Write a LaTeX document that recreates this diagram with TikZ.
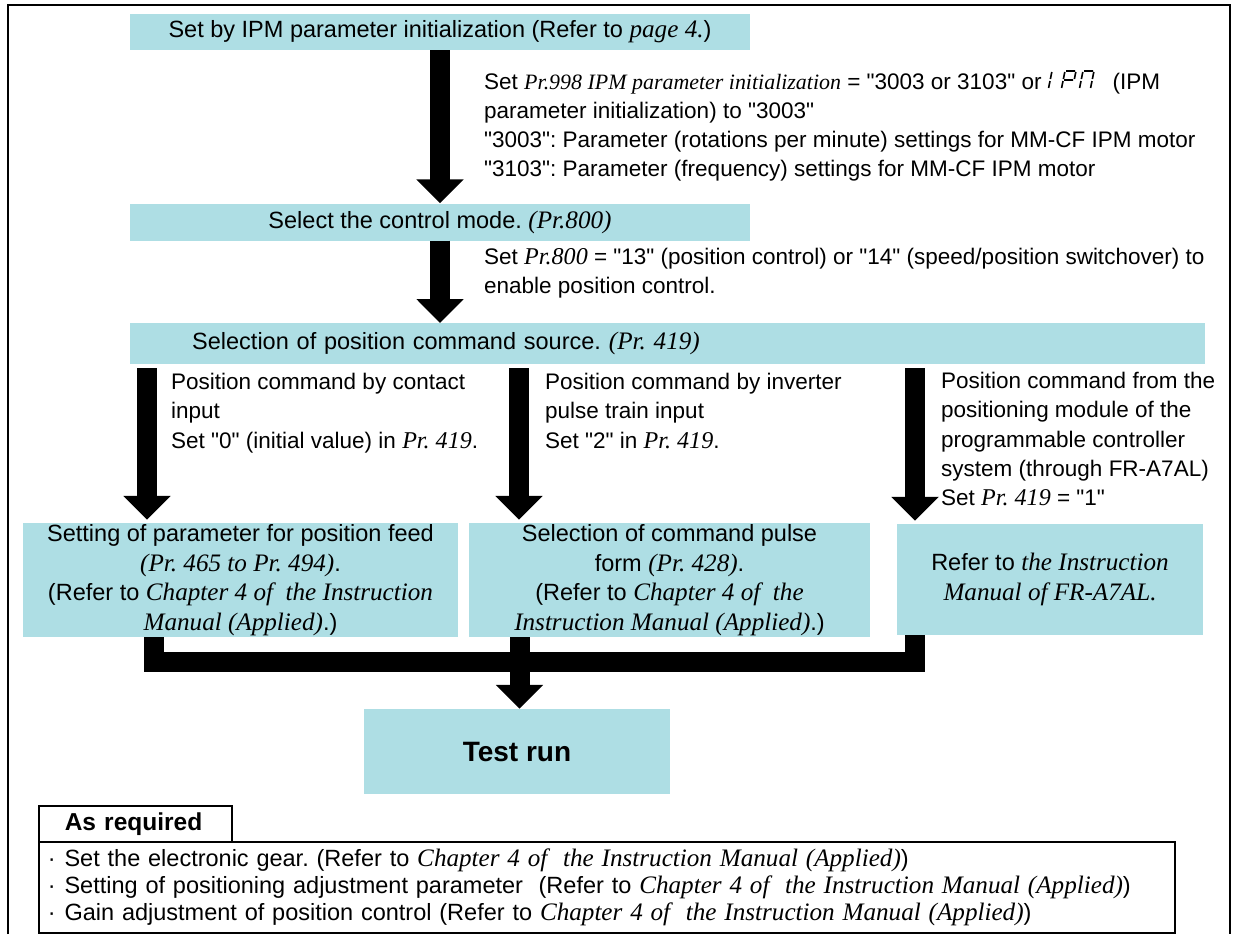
\documentclass[tikz,border=0pt]{standalone}
\usepackage{fontspec}
\setmainfont{Liberation Sans}[Ligatures=TeXOff]
\newfontfamily\tms[Scale=1.07]{Liberation Serif}
\usetikzlibrary{arrows.meta}
\definecolor{boxblue}{RGB}{174,222,228}
\newcommand\ser[1]{{\tms\itshape #1}}
\frenchspacing
% seven segment "1PM" as shown on the operation panel
\newcommand\segipm{\tikz[baseline=0pt,x=1pt,y=1pt,line width=1.6pt,xslant=.2]{
  \draw (4,1)--(4,8) (4,10)--(4,17);
  \draw (18,18)--(27,18) (17,10)--(17,17) (28,10)--(28,17) (18,9)--(27,9) (17,1)--(17,8);
  \draw (36,18)--(45,18) (35,10)--(35,17) (35,1)--(35,8) (46,10)--(46,17) (46,1)--(46,8);}}
\begin{document}
\begin{tikzpicture}[x=1pt,y=-1pt,line join=miter,
  box/.style={fill=boxblue,inner sep=0pt,align=center,font=\fontsize{23.5}{29.5}\selectfont},
  note/.style={anchor=north west,inner sep=0pt,align=left,font=\fontsize{22.5}{29.3}\selectfont},
  flow/.style={line width=20pt,-{Triangle[width=46pt,length=24pt]}},
  bar/.style={line width=20pt}]
  \useasboundingbox (0,0) rectangle (1238,934);
  \draw[line width=2pt] (8,934) -- (8,5) -- (1230,5) -- (1230,934);

  \node[box,minimum width=620pt,minimum height=36pt] (init) at (440,32) {Set by IPM parameter initialization (Refer to \ser{page 4.})};
  \node[box,minimum width=620pt,minimum height=37pt] (mode) at (440,222) {Select the control mode. \ser{(Pr.800)}};
  \node[box,anchor=north west,text width=951pt,inner xsep=62pt,align=left,minimum height=41pt] (source) at (130,323) {Selection of position command source. \ser{(Pr. 419)}};
  \node[box,minimum width=435pt,minimum height=114pt] (feed) at (240.5,580) {Setting of parameter for position feed\\ \ser{(Pr. 465 to Pr. 494)}.\\ (Refer to \ser{Chapter 4 of\ \ the Instruction}\\ \ser{Manual (Applied)}.)};
  \node[box,minimum width=401pt,minimum height=114pt] (pulse) at (669.5,580) {Selection of command pulse\\ form \ser{(Pr. 428)}.\\ (Refer to \ser{Chapter 4 of\ \ the}\\ \ser{Instruction Manual (Applied)}.)};
  \node[box,minimum width=306pt,minimum height=111pt] (a7al) at (1050,579.5) {Refer to \ser{the Instruction}\\ \ser{Manual of FR-A7AL.}};
  \node[box,minimum width=306pt,minimum height=85pt,font=\bfseries\fontsize{28}{30}\selectfont] (test) at (517,751.5) {Test run};

  \node[note] (n1) at (484,70) {Set \ser{\fontsize{20.5}{29.3}\selectfont Pr.998 IPM parameter initialization} = "3003 or 3103" or \segipm\hspace{18pt}(IPM\\ parameter initialization) to "3003"\\ "3003": Parameter (rotations per minute) settings for MM-CF IPM motor\\ "3103": Parameter (frequency) settings for MM-CF IPM motor};
  \node[note] (n2) at (484,248) {Set \ser{Pr.800} = "13" (position control) or "14" (speed/position switchover) to\\ enable position control.};
  \node[note] (nL) at (171,373) {Position command by contact\\ input\\ Set "0" (initial value) in \ser{Pr. 419}.};
  \node[note] (nM) at (545,373) {Position command by inverter\\ pulse train input\\ Set "2" in \ser{Pr. 419}.};
  \node[note] (nR) at (941,372) {Position command from the\\ positioning module of the\\ programmable controller\\ system (through FR-A7AL)\\ Set \ser{Pr. 419} = "1"};

  \draw[flow] (init) -- (mode);
  \draw[flow] (mode) -- (mode.south |- source.north);
  \coordinate (fL) at (147,368);
  \coordinate (fM) at (519,368);
  \coordinate (fR) at (915,368);
  \draw[flow,shorten >=3pt] (fL) -- (fL |- feed.north);
  \draw[flow,shorten >=3pt] (fM) -- (fM |- pulse.north);
  \draw[flow,shorten >=3pt] (fR) -- (fR |- a7al.north);
  \coordinate (jL) at (153.5,661.5);
  \coordinate (jM) at (519.5,661.5);
  \coordinate (jR) at (915,661.5);
  \draw[bar] (jL |- feed.south) -- (jL) -- (jR) -- (jR |- a7al.south);
  \draw[flow] (jM |- pulse.south) -- (jM |- test.north);

  \node[draw,line width=1.5pt,anchor=north west,inner xsep=26pt,inner ysep=0pt,text width=141pt,minimum height=36pt,align=left,font=\bfseries\fontsize{24.5}{26}\selectfont] (req) at (38,805) {As required};
  \node[draw,line width=1.5pt,anchor=north west,inner xsep=9pt,inner ysep=0pt,text width=1118pt,minimum height=91pt,align=left,font=\fontsize{23.5}{27}\selectfont] (reqlist) at (38,841) {·\hspace{9pt}Set the electronic gear. (Refer to \ser{Chapter 4 of\ \ the Instruction Manual (Applied)})\\ ·\hspace{9pt}Setting of positioning adjustment parameter\ \ (Refer to \ser{Chapter 4 of\ \ the Instruction Manual (Applied)})\\ ·\hspace{9pt}Gain adjustment of position control (Refer to \ser{Chapter 4 of\ \ the Instruction Manual (Applied)})};
\end{tikzpicture}
\end{document}
